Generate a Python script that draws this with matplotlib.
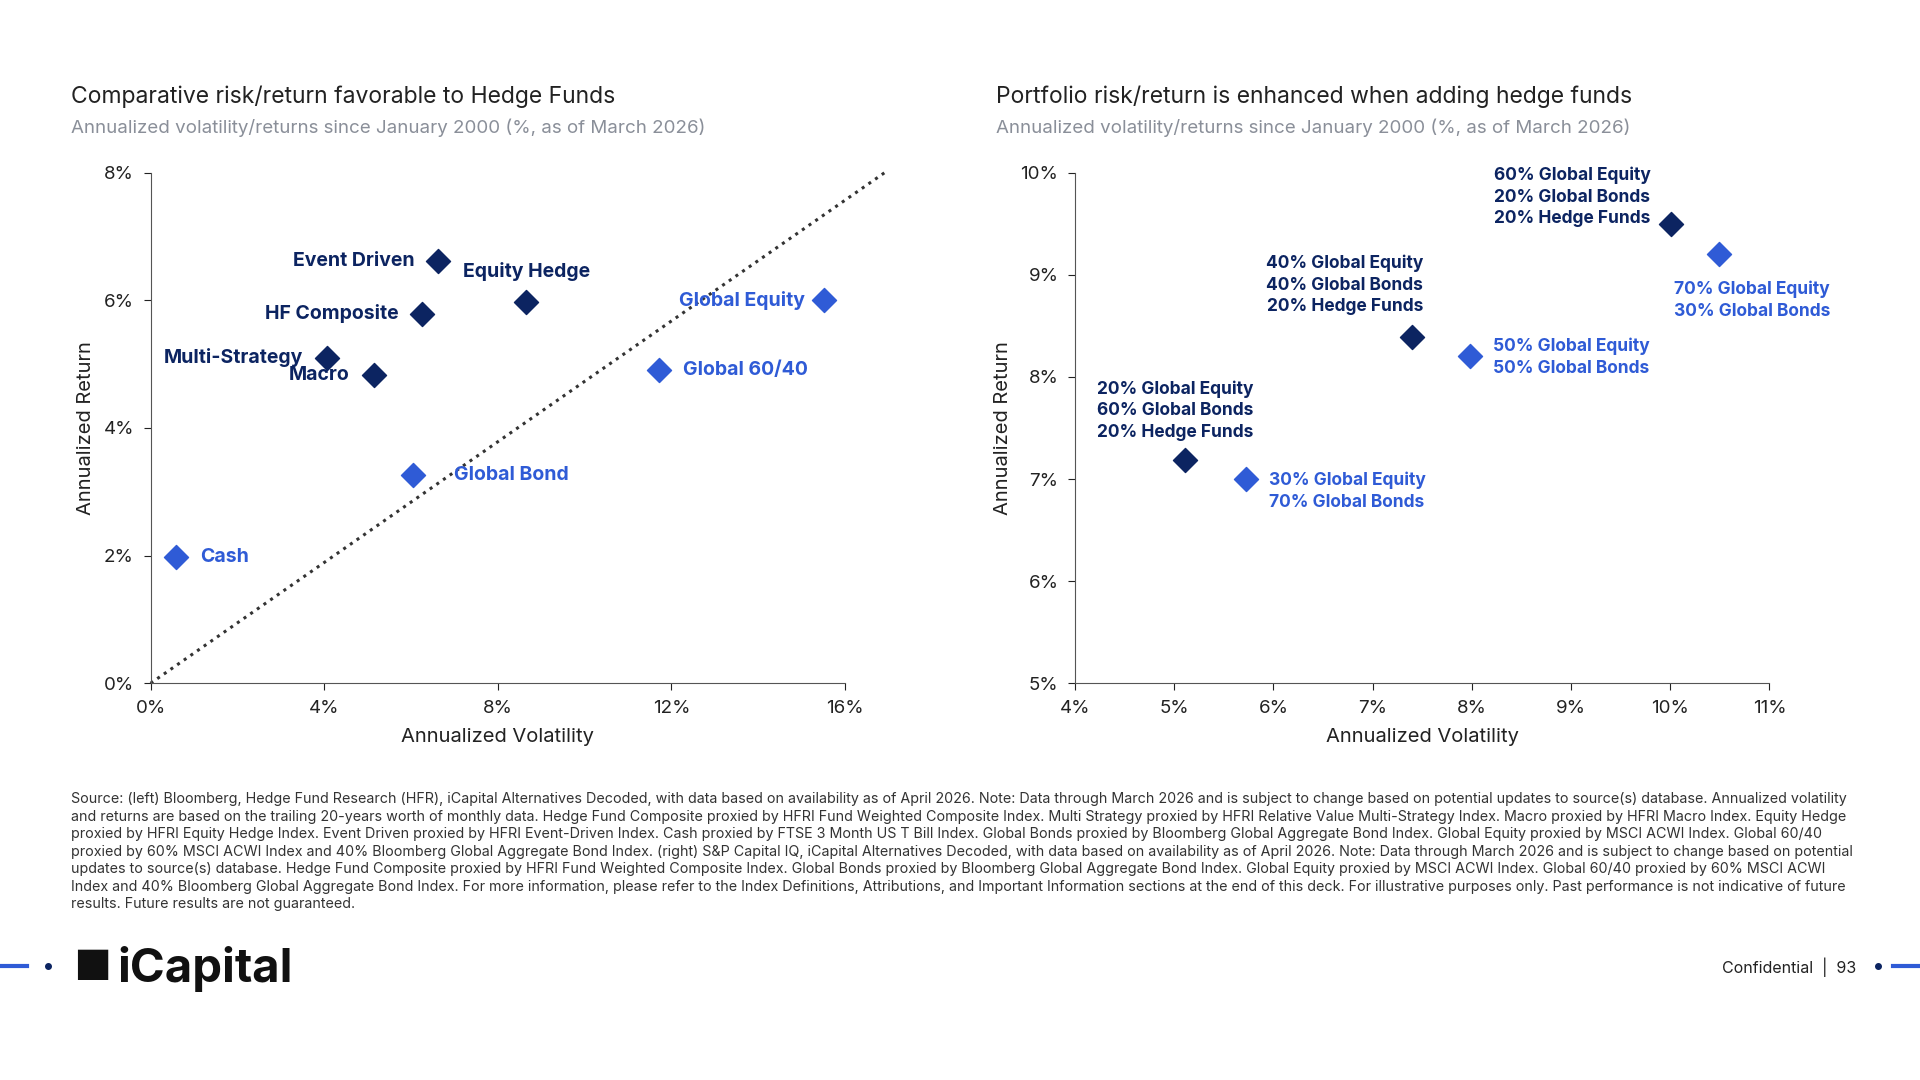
import matplotlib
matplotlib.use("Agg")
import matplotlib.pyplot as plt
from matplotlib.ticker import FuncFormatter

plt.rcParams['font.family'] = ['Inter', 'DejaVu Sans']

NAVY = '#0c2461'
BLUE = '#2f5bd6'
GREY = '#8a8f99'

# Left chart data
hf_names = ['Event Driven', 'Equity Hedge', 'HF Composite', 'Multi-Strategy', 'Macro']
hf_vol = [6.63, 8.64, 6.26, 4.06, 5.14]
hf_ret = [6.62, 5.97, 5.79, 5.10, 4.83]
tr_names = ['Global Equity', 'Global 60/40', 'Global Bond', 'Cash']
tr_vol = [15.52, 11.71, 6.04, 0.59]
tr_ret = [6.00, 4.91, 3.26, 1.98]
line_x = [0, 17.0]
line_y = [0, 8.04]

# Right chart data
wh_names = ['60% Global Equity\n20% Global Bonds\n20% Hedge Funds',
            '40% Global Equity\n40% Global Bonds\n20% Hedge Funds',
            '20% Global Equity\n60% Global Bonds\n20% Hedge Funds']
wh_vol = [10.01, 7.40, 5.11]
wh_ret = [9.50, 8.39, 7.19]
nh_names = ['70% Global Equity\n30% Global Bonds',
            '50% Global Equity\n50% Global Bonds',
            '30% Global Equity\n70% Global Bonds']
nh_vol = [10.49, 7.98, 5.72]
nh_ret = [9.20, 8.20, 7.00]

W, H = 1568, 882
fig = plt.figure(figsize=(19.2, 10.8), dpi=100)

def frac(x0, y0, x1, y1):
    return [x0 / W, 1 - y1 / H, (x1 - x0) / W, (y1 - y0) / H]

pct = FuncFormatter(lambda v, p: f'{v:.0f}%')

def style(ax):
    for s in ['top', 'right']:
        ax.spines[s].set_visible(False)
    for s in ['left', 'bottom']:
        ax.spines[s].set_color('#555555')
    ax.tick_params(labelsize=13.5, colors='#222222', length=5, pad=7)
    ax.xaxis.set_major_formatter(pct)
    ax.yaxis.set_major_formatter(pct)
    ax.set_xlabel('Annualized Volatility', fontsize=14.5, color='#222222', labelpad=8)
    ax.set_ylabel('Annualized Return', fontsize=14.5, color='#222222', labelpad=6)

ax1 = fig.add_axes(frac(123, 141, 690, 558))
ax1.plot(line_x, line_y, ls=':', color='#333333', lw=2.2, clip_on=False)
ax1.scatter(hf_vol, hf_ret, marker='D', s=150, color=NAVY, zorder=3)
ax1.scatter(tr_vol, tr_ret, marker='D', s=150, color=BLUE, zorder=3)
for n, x, y in zip(hf_names, hf_vol, hf_ret):
    if n == 'Equity Hedge':
        ax1.text(7.2, 6.45, n, fontsize=14, fontweight='bold', color=NAVY, va='center', ha='left')
    elif n == 'Macro':
        ax1.text(x - 0.55, y, n, fontsize=14, fontweight='bold', color=NAVY, va='center', ha='right')
    else:
        ax1.text(x - 0.55, y, n, fontsize=14, fontweight='bold', color=NAVY, va='center', ha='right')
for n, x, y in zip(tr_names, tr_vol, tr_ret):
    if n == 'Global Equity':
        ax1.text(15.07, y, n, fontsize=14, fontweight='bold', color=BLUE, va='center', ha='right')
    elif n == 'Global Bond':
        ax1.text(7.0, y, n, fontsize=14, fontweight='bold', color=BLUE, va='center', ha='left')
    else:
        ax1.text(x + 0.55, y, n, fontsize=14, fontweight='bold', color=BLUE, va='center', ha='left')
ax1.set_xlim(0, 16)
ax1.set_ylim(0, 8)
ax1.set_xticks([0, 4, 8, 12, 16])
ax1.set_yticks([0, 2, 4, 6, 8])
style(ax1)

ax2 = fig.add_axes(frac(878, 141, 1445, 558))
ax2.scatter(wh_vol, wh_ret, marker='D', s=150, color=NAVY, zorder=3)
ax2.scatter(nh_vol, nh_ret, marker='D', s=150, color=BLUE, zorder=3)
wh_pos = [(9.01, 9.76), (6.72, 8.90), (5.01, 7.67)]
nh_pos = [(10.04, 8.75), (8.21, 8.19), (5.95, 6.88)]
for n, (x, y) in zip(wh_names, wh_pos):
    ax2.text(x, y, n, fontsize=12.5, fontweight='bold', color=NAVY, va='center', ha='center', linespacing=1.35)
for n, (x, y) in zip(nh_names, nh_pos):
    ax2.text(x, y, n, fontsize=12.5, fontweight='bold', color=BLUE, va='center', ha='left', linespacing=1.35)
ax2.set_xlim(4, 11)
ax2.set_ylim(5, 10)
ax2.set_xticks(range(4, 12))
ax2.set_yticks(range(5, 11))
style(ax2)

def ft(x, y, s, **kw):
    fig.text(x / W, 1 - y / H, s, **kw)

ft(58, 79, 'Comparative risk/return favorable to Hedge Funds', fontsize=16.5, color='#222222', va='center')
ft(58, 104, 'Annualized volatility/returns since January 2000 (%, as of March 2026)', fontsize=13.5, color=GREY, va='center')
ft(813, 79, 'Portfolio risk/return is enhanced when adding hedge funds', fontsize=16.5, color='#222222', va='center')
ft(813, 104, 'Annualized volatility/returns since January 2000 (%, as of March 2026)', fontsize=13.5, color=GREY, va='center')

src = ("Source: (left) Bloomberg, Hedge Fund Research (HFR), iCapital Alternatives Decoded, with data based on availability as of April 2026. Note: Data through March 2026 and is subject to change based on potential updates to source(s) database. Annualized volatility\n"
       "and returns are based on the trailing 20-years worth of monthly data. Hedge Fund Composite proxied by HFRI Fund Weighted Composite Index. Multi Strategy proxied by HFRI Relative Value Multi-Strategy Index. Macro proxied by HFRI Macro Index. Equity Hedge\n"
       "proxied by HFRI Equity Hedge Index. Event Driven proxied by HFRI Event-Driven Index. Cash proxied by FTSE 3 Month US T Bill Index. Global Bonds proxied by Bloomberg Global Aggregate Bond Index. Global Equity proxied by MSCI ACWI Index. Global 60/40\n"
       "proxied by 60% MSCI ACWI Index and 40% Bloomberg Global Aggregate Bond Index. (right) S&P Capital IQ, iCapital Alternatives Decoded, with data based on availability as of April 2026. Note: Data through March 2026 and is subject to change based on potential\n"
       "updates to source(s) database. Hedge Fund Composite proxied by HFRI Fund Weighted Composite Index. Global Bonds proxied by Bloomberg Global Aggregate Bond Index. Global Equity proxied by MSCI ACWI Index. Global 60/40 proxied by 60% MSCI ACWI\n"
       "Index and 40% Bloomberg Global Aggregate Bond Index. For more information, please refer to the Index Definitions, Attributions, and Important Information sections at the end of this deck. For illustrative purposes only. Past performance is not indicative of future\n"
       "results. Future results are not guaranteed.")
ft(58, 647, src, fontsize=10.3, color='#333333', va='top', linespacing=1.32)

ft(60, 791, '\u25A0', fontsize=30, color='#111111', va='center')
ft(96, 791, 'iCapital', fontsize=34, fontweight='bold', color='#111111', va='center')
ft(1406, 790, 'Confidential  |  93', fontsize=11.5, color='#222222', va='center')
fig.add_artist(plt.Line2D([0, 22 / W], [1 - 789 / H] * 2, color=BLUE, lw=3))
fig.add_artist(plt.Line2D([1546 / W, 1], [1 - 789 / H] * 2, color=BLUE, lw=3))
fig.add_artist(plt.Line2D([39 / W], [1 - 789 / H], marker='o', color=NAVY, ms=4))
fig.add_artist(plt.Line2D([1534 / W], [1 - 789 / H], marker='o', color=NAVY, ms=4))

fig.savefig('out.png', dpi=100, facecolor='white')
